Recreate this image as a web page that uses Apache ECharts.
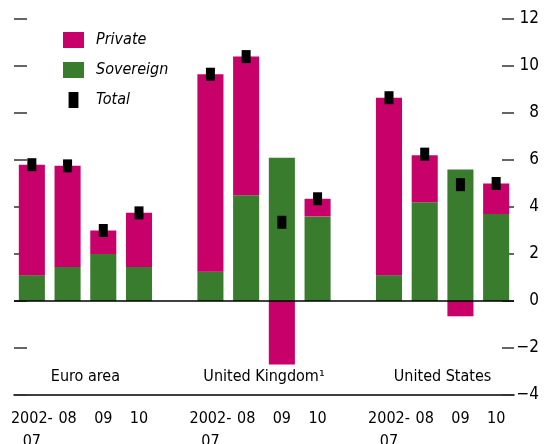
<!DOCTYPE html>
<html>
<head>
<meta charset="utf-8">
<script src="https://cdn.jsdelivr.net/npm/echarts@6/dist/echarts.min.js"></script>
<style>
  html, body { margin: 0; padding: 0; background: #fff; }
  #chart { width: 544px; height: 444px; }
</style>
</head>
<body>
<div id="chart"></div>
<script>
// categories, with an empty slot between each region
const categories = ['2002-\n07', '08', '09', '10', '', '2002-\n07', '08', '09', '10', '', '2002-\n07', '08', '09', '10']
// region names sit on the boundaries between the 2nd and 3rd bar of each group
const groupLabels = ['', '', 'Euro area', '', '', '', '', 'United Kingdom¹', '', '', '', '', 'United States', '', '']
// values (percent)
const sovereign = [1.1, 1.45, 2.0, 1.45, '-', 1.25, 4.5, 6.1, 3.6, '-', 1.1, 4.2, 5.6, 3.7]
const privateSec = [4.7, 4.3, 1.0, 2.3, '-', 8.4, 5.9, -2.7, 0.75, '-', 7.55, 2.0, -0.65, 1.3]
const total = [5.8, 5.75, 3.0, 3.75, '-', 9.65, 10.4, 3.35, 4.35, '-', 8.65, 6.25, 4.95, 5.0]
const yTicks = { min: -4, max: 12, interval: 2 }

const FONT = '"DejaVu Sans Condensed", "Liberation Sans Narrow", sans-serif'
const FS = 16
const MAGENTA = '#C8006A'
const GREEN = '#3A7C2E'

const chart = echarts.init(document.getElementById('chart'), null, { renderer: 'canvas' })

chart.setOption({
    animation: false,
    backgroundColor: '#ffffff',
    textStyle: { fontFamily: FONT },
    grid: { left: 14, right: 30, top: 19, bottom: 49, outerBoundsMode: 'none', containLabel: false },
    legend: {
        orient: 'vertical',
        left: 63,
        top: 32,
        padding: 0,
        itemWidth: 21,
        itemHeight: 16,
        itemGap: 14,
        textStyle: { fontFamily: FONT, fontSize: FS, fontStyle: 'italic', color: '#000', padding: [0, 0, 0, 7] },
        data: [
            { name: 'Private', icon: 'rect' },
            { name: 'Sovereign', icon: 'rect' },
            { name: 'Total', icon: 'path://M0,0 L8,0 L8,13 L0,13 Z' }
        ]
    },
    xAxis: [{
        type: 'category',
        data: categories,
        position: 'bottom',
        axisLine: { onZero: false, lineStyle: { color: '#000', width: 1.5 } },
        axisTick: { inside: true, length: 8, interval: 0, lineStyle: { color: '#000', width: 1.5 } },
        axisLabel: { interval: 0, color: '#000', fontFamily: FONT, fontSize: FS, lineHeight: 23, margin: 12 },
        splitLine: { show: false }
    }, {
        type: 'category',
        data: groupLabels,
        boundaryGap: false,
        position: 'bottom',
        axisLine: { show: false },
        axisTick: { show: false },
        axisLabel: { interval: 0, inside: true, margin: 10, color: '#000', fontFamily: FONT, fontSize: FS },
        splitLine: { show: false }
    }],
    yAxis: [{
        type: 'value',
        position: 'left',
        min: yTicks.min, max: yTicks.max, interval: yTicks.interval,
        axisLine: { show: false },
        axisTick: { show: true, inside: true, length: 13, lineStyle: { color: '#333', width: 1.5 } },
        axisLabel: { show: false },
        splitLine: { show: false }
    }, {
        type: 'value',
        position: 'right',
        min: yTicks.min, max: yTicks.max, interval: yTicks.interval,
        axisLine: { show: false },
        axisTick: { show: true, inside: true, length: 12, lineStyle: { color: '#333', width: 1.5 } },
        axisLabel: {
            color: '#000', fontFamily: FONT, fontSize: FS + 1, align: 'right', margin: 25,
            formatter: v => String(v).replace('-', '\u2212')
        },
        splitLine: { show: false }
    }],
    series: [{
        name: 'Sovereign',
        type: 'bar',
        stack: 'debt',
        data: sovereign,
        barWidth: '73%',
        itemStyle: { color: GREEN },
        markLine: {
            silent: true,
            symbol: 'none',
            label: { show: false },
            lineStyle: { color: '#000', type: 'solid', width: 1.5 },
            data: [{ yAxis: 0 }]
        }
    }, {
        name: 'Private',
        type: 'bar',
        stack: 'debt',
        data: privateSec,
        barWidth: '73%',
        itemStyle: { color: MAGENTA }
    }, {
        name: 'Total',
        type: 'scatter',
        data: total,
        symbol: 'rect',
        symbolSize: [9, 13],
        itemStyle: { color: '#000', opacity: 1 },
        z: 5
    }]
})
</script>
</body>
</html>
